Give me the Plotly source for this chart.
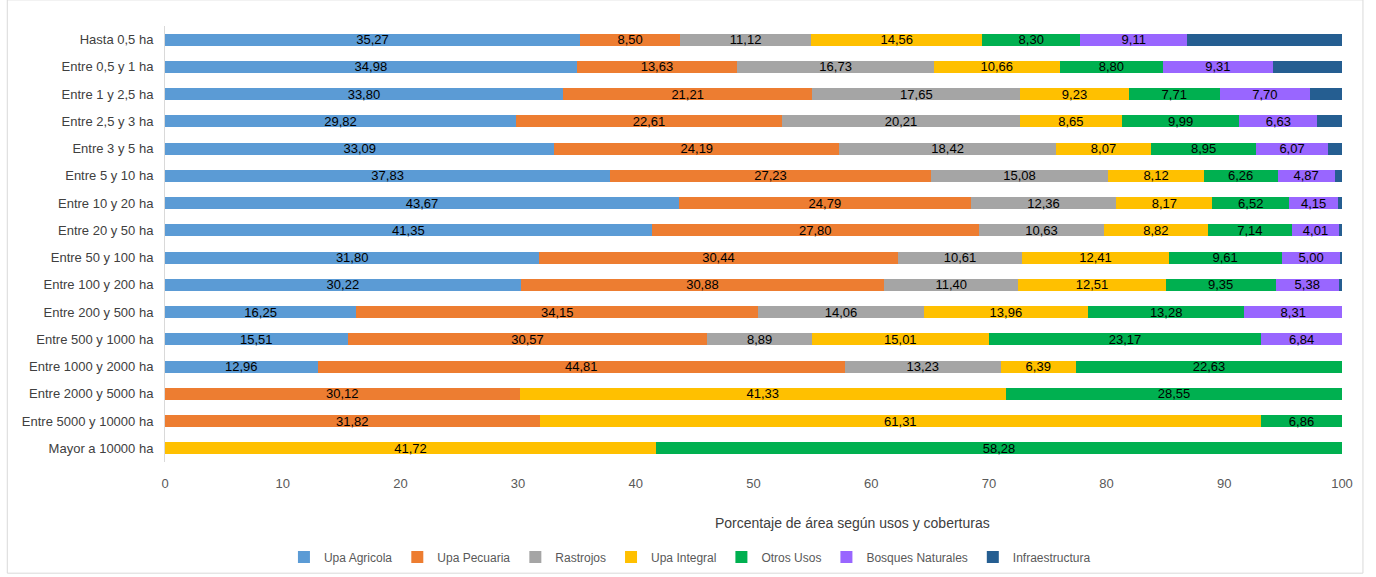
import plotly.graph_objects as go

# Farm-size classes, top to bottom
categories = [
    "Hasta 0,5 ha", "Entre 0,5 y 1 ha", "Entre 1 y 2,5 ha", "Entre 2,5 y 3 ha",
    "Entre 3 y 5 ha", "Entre 5 y 10 ha", "Entre 10 y 20 ha", "Entre 20 y 50 ha",
    "Entre 50 y 100 ha", "Entre 100 y 200 ha", "Entre 200 y 500 ha",
    "Entre 500 y 1000 ha", "Entre 1000 y 2000 ha", "Entre 2000 y 5000 ha",
    "Entre 5000 y 10000 ha", "Mayor a 10000 ha",
]

# Share of area (%) by land use
upa_agricola = [35.27, 34.98, 33.80, 29.82, 33.09, 37.83, 43.67, 41.35, 31.80, 30.22, 16.25, 15.51, 12.96, 0, 0, 0]
upa_pecuaria = [8.50, 13.63, 21.21, 22.61, 24.19, 27.23, 24.79, 27.80, 30.44, 30.88, 34.15, 30.57, 44.81, 30.12, 31.82, 0]
rastrojos = [11.12, 16.73, 17.65, 20.21, 18.42, 15.08, 12.36, 10.63, 10.61, 11.40, 14.06, 8.89, 13.23, 0, 0, 0]
upa_integral = [14.56, 10.66, 9.23, 8.65, 8.07, 8.12, 8.17, 8.82, 12.41, 12.51, 13.96, 15.01, 6.39, 41.33, 61.31, 41.72]
otros_usos = [8.30, 8.80, 7.71, 9.99, 8.95, 6.26, 6.52, 7.14, 9.61, 9.35, 13.28, 23.17, 22.63, 28.55, 6.86, 58.28]
bosques_naturales = [9.11, 9.31, 7.70, 6.63, 6.07, 4.87, 4.15, 4.01, 5.00, 5.38, 8.31, 6.84, 0, 0, 0, 0]
infraestructura = [13.14, 5.89, 2.70, 2.09, 1.21, 0.61, 0.34, 0.25, 0.13, 0.26, 0, 0, 0, 0, 0, 0]

x_ticks = [0, 10, 20, 30, 40, 50, 60, 70, 80, 90, 100]

series = [
    ("Upa Agricola", upa_agricola, "#5B9BD5", True),
    ("Upa Pecuaria", upa_pecuaria, "#ED7D31", True),
    ("Rastrojos", rastrojos, "#A5A5A5", True),
    ("Upa Integral", upa_integral, "#FFC000", True),
    ("Otros Usos", otros_usos, "#00B050", True),
    ("Bosques Naturales", bosques_naturales, "#9966FF", True),
    ("Infraestructura", infraestructura, "#255E91", False),
]

FONT = "Liberation Sans Narrow, Liberation Sans, Arial, sans-serif"

fig = go.Figure()
for name, vals, color, labelled in series:
    texts = [(f"{v:.2f}".replace(".", ",") if (labelled and v > 0) else "") for v in vals]
    fig.add_trace(go.Bar(
        name=name, y=categories, x=vals, orientation="h",
        marker=dict(color=color, line=dict(width=0)),
        text=texts, textposition="inside", insidetextanchor="middle",
        textangle=0, constraintext="none",
        textfont=dict(color="#000000", size=13, family=FONT),
        hovertemplate="%{y}: %{x:.2f}<extra>" + name + "</extra>",
    ))

fig.update_layout(
    barmode="stack",
    bargap=0.56,
    width=1376, height=577,
    margin=dict(l=165, r=34, t=26, b=115, autoexpand=False),
    paper_bgcolor="white", plot_bgcolor="white",
    separators=",.",
    uniformtext=dict(minsize=13, mode="show"),
    font=dict(family=FONT, size=13, color="#595959"),
    xaxis=dict(
        range=[0, 100], tickvals=x_ticks, showgrid=False, zeroline=False,
        showline=False, ticks="", tickfont=dict(size=13, color="#595959"),
        ticklabelstandoff=12,
    ),
    yaxis=dict(
        categoryorder="array", categoryarray=categories, autorange="reversed",
        showline=True, linecolor="#D9D9D9", linewidth=1, ticks="",
        tickfont=dict(size=13, color="#404040"), ticklabelstandoff=8,
        showgrid=False,
    ),
    legend=dict(
        orientation="h", x=0.446, y=-0.218, xanchor="center", yanchor="middle",
        font=dict(size=12, color="#595959"), traceorder="normal",
        itemwidth=30, tracegroupgap=0,
    ),
    showlegend=True,
    annotations=[dict(
        text="Porcentaje de área según usos y coberturas",
        xref="paper", yref="paper", x=0.5845, y=-0.14,
        xanchor="center", yanchor="middle", showarrow=False,
        font=dict(size=14, color="#404040", family=FONT),
    )],
    shapes=[dict(
        type="rect", xref="paper", yref="paper",
        x0=-0.134, x1=1.0178, y0=-0.255, y1=1.06,
        line=dict(color="#D9D9D9", width=1), fillcolor="rgba(0,0,0,0)",
    )],
)

fig.write_html("out.html")
